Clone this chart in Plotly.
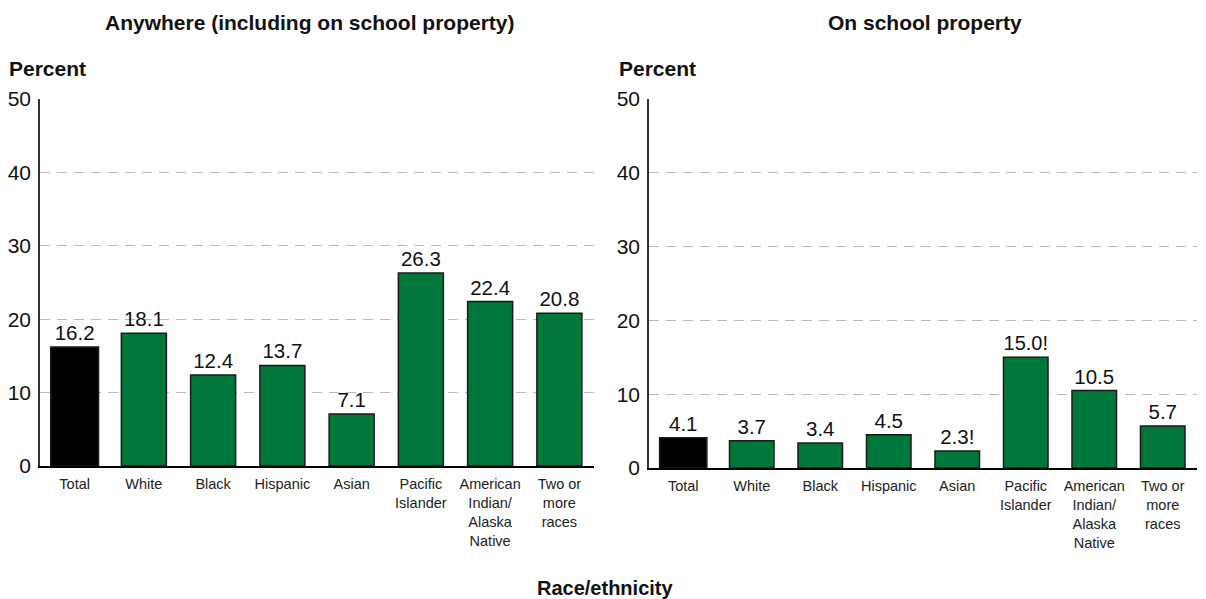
import plotly.graph_objects as go

categories = ["Total", "White", "Black", "Hispanic", "Asian", "Pacific<br>Islander",
              "American<br>Indian/<br>Alaska<br>Native", "Two or<br>more<br>races"]
anywhere = [16.2, 18.1, 12.4, 13.7, 7.1, 26.3, 22.4, 20.8]
anywhere_labels = ["16.2", "18.1", "12.4", "13.7", "7.1", "26.3", "22.4", "20.8"]
school = [4.1, 3.7, 3.4, 4.5, 2.3, 15.0, 10.5, 5.7]
school_labels = ["4.1", "3.7", "3.4", "4.5", "2.3!", "15.0!", "10.5", "5.7"]
y_ticks = [0, 10, 20, 30, 40, 50]

GREEN = "#00773a"
colors = ["#000000"] + [GREEN] * 7
widths = [0.69] + [0.65] * 7
FONT = "Liberation Sans, Arial, sans-serif"

W, H = 1206, 599
OFF = 8  # page body margin


def px(x):
    return (x - OFF) / W


def py(y):
    return 1 - (y - OFF) / H


fig = go.Figure()
for vals, labs, xa, ya in [(anywhere, anywhere_labels, "x", "y"), (school, school_labels, "x2", "y2")]:
    fig.add_trace(go.Bar(
        x=categories, y=vals, text=labs, textposition="outside",
        textfont=dict(size=20.5, color="#111111", family=FONT),
        marker=dict(color=colors, line=dict(color="#1a1a1a", width=1.5)),
        width=widths, cliponaxis=False, xaxis=xa, yaxis=ya, showlegend=False,
        hoverinfo="skip",
    ))

xcommon = dict(showline=True, linecolor="#000000", linewidth=1.5, showgrid=False,
               tickfont=dict(size=14.5, color="#222222", family=FONT), ticks="",
               ticklabelstandoff=4, fixedrange=True, automargin=False)
ycommon = dict(range=[0, 50], tickvals=y_ticks, showline=True, linecolor="#333333",
               linewidth=1.5, showgrid=True, gridcolor="#b4b8c8", griddash="10px,7px",
               gridwidth=1, zeroline=False, ticks="", ticklabelstandoff=3,
               tickfont=dict(size=21, color="#111111", family=FONT), fixedrange=True,
               automargin=False)

fig.update_layout(
    width=W, height=H,
    margin=dict(l=0, r=0, t=0, b=0, pad=0),
    paper_bgcolor="white", plot_bgcolor="white",
    showlegend=False,
    font=dict(family=FONT, color="#111111"),
    xaxis=dict(domain=[px(40), px(594)], anchor="y", **xcommon),
    xaxis2=dict(domain=[px(649), px(1197)], anchor="y2", **xcommon),
    yaxis=dict(domain=[py(466), py(99)], anchor="x", **ycommon),
    yaxis2=dict(domain=[py(468), py(99)], anchor="x2", **ycommon),
    annotations=[
        dict(text="<b>Anywhere (including on school property)</b>", x=px(310), y=py(22),
             xref="paper", yref="paper", showarrow=False, font=dict(size=21, family=FONT),
             xanchor="center", yanchor="middle"),
        dict(text="<b>On school property</b>", x=px(925), y=py(22),
             xref="paper", yref="paper", showarrow=False, font=dict(size=21, family=FONT),
             xanchor="center", yanchor="middle"),
        dict(text="<b>Percent</b>", x=px(7), y=py(68),
             xref="paper", yref="paper", showarrow=False, font=dict(size=21, family=FONT),
             xanchor="left", yanchor="middle"),
        dict(text="<b>Percent</b>", x=px(617), y=py(68),
             xref="paper", yref="paper", showarrow=False, font=dict(size=21, family=FONT),
             xanchor="left", yanchor="middle"),
        dict(text="<b>Race/ethnicity</b>", x=px(605), y=py(588),
             xref="paper", yref="paper", showarrow=False, font=dict(size=20, family=FONT),
             xanchor="center", yanchor="middle"),
    ],
)

fig.write_html("out.html")
